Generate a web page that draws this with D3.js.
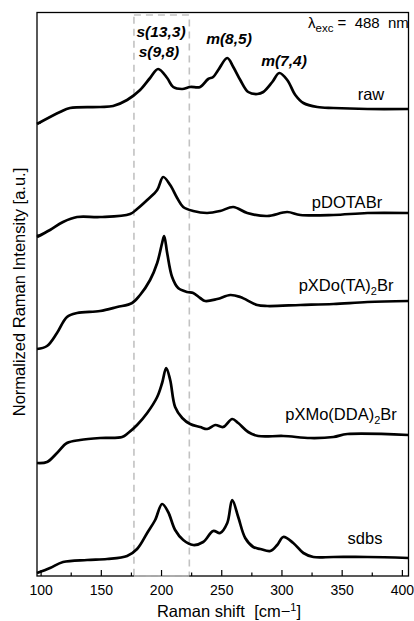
<!DOCTYPE html>
<html>
<head>
<meta charset="utf-8">
<style>
    body {
        margin: 0;
        background: #fff;
        font-family: "Liberation Sans", Arial, sans-serif;
    }
    svg {
        display: block;
    }
    .curve {
        fill: none;
        stroke: #000;
        stroke-width: 2.7px;
        stroke-linejoin: round;
    }
    .frame {
        fill: none;
        stroke: #000;
        stroke-width: 1.3px;
    }
    .region {
        fill: none;
        stroke: #c2c2c2;
        stroke-width: 1.6px;
        stroke-dasharray: 7 5;
    }
    .tick-label text {
        font-size: 14px;
    }
    .spec-label {
        font-size: 16.5px;
        text-anchor: middle;
    }
    .peak-label {
        font-size: 15.5px;
        font-weight: bold;
        font-style: italic;
        text-anchor: middle;
    }
    .axis-title {
        font-size: 16.5px;
        text-anchor: middle;
        white-space: pre;
    }
</style>
</head>
<body>
<script src="https://cdn.jsdelivr.net/npm/d3@7"></script>
<script>

    // spectra, [raman shift cm-1, stacked normalized intensity]
    var rawSpectrum = [
        [97,45.2],[116.1,46.4],[124.4,46.8],[149.4,46.9],[160.2,47.0],[171.8,47.6],
        [182.6,48.6],[190.9,49.8],[197.6,50.7],[205.1,49.8],[210.1,48.9],[217.6,48.7],
        [224.2,48.9],[232.5,48.9],[239.2,49.7],[243.3,49.9],[247.5,50.6],[255.0,51.8],
        [260.0,50.9],[265.8,49.6],[272.4,48.4],[279.9,48.2],[284.9,48.4],[292.4,49.4],
        [298.2,50.3],[304.8,49.6],[311.5,48.1],[318.2,47.3],[329.8,46.9],[343.1,46.8],
        [371.4,46.7],[405.5,46.7]
    ];
    var pdotabrSpectrum = [
        [97,33.9],[107.8,34.6],[118.6,35.4],[130.3,35.9],[149.4,35.9],[174.3,36.2],
        [180.1,36.7],[188.5,37.6],[196.8,38.6],[201.8,39.9],[207.6,39.1],[213.4,37.8],
        [218.4,36.9],[226.7,36.5],[238.3,36.3],[249.1,36.5],[260.0,36.9],[271.6,36.3],
        [288.2,36.0],[304.8,36.4],[315.7,36.1],[343.1,36.1],[371.4,36.3],[405.5,36.3]
    ];
    var pxdoSpectrum = [
        [97,22.7],[105.3,23.0],[113.6,24.3],[121.9,25.9],[130.3,26.3],[149.4,26.5],
        [163.5,26.9],[176.0,27.3],[182.6,28.1],[190.9,29.6],[196.8,31.3],[200.9,33.3],
        [202.6,34.0],[205.1,32.3],[209.2,29.9],[214.2,28.8],[221.7,28.4],[226.7,28.3],
        [232.5,27.8],[236.7,27.5],[246.7,27.7],[257.5,28.1],[265.8,27.9],[279.9,27.1],
        [288.2,27.0],[315.7,27.1],[343.1,27.2],[371.4,27.4],[405.5,27.5]
    ];
    var pxmoSpectrum = [
        [97,11.3],[105.3,11.4],[113.6,12.3],[121.9,13.3],[132.8,13.6],[149.4,13.8],
        [167.7,13.9],[172.7,14.3],[180.1,15.1],[188.5,16.3],[196.8,17.9],[200.9,19.3],
        [204.3,20.8],[207.6,19.6],[211.7,16.9],[217.6,15.8],[224.2,15.2],[232.5,14.9],
        [238.3,14.7],[245.0,15.1],[251.6,14.9],[259.1,15.7],[264.1,15.3],[272.4,14.4],
        [280.7,14.0],[301.5,14.0],[324.0,13.8],[343.1,13.9],[354.7,14.2],[405.5,14.1]
    ];
    var sdbsSpectrum = [
        [97,0.3],[107.8,0.8],[118.6,1.4],[138.6,1.6],[155.2,1.7],[171.8,2.0],
        [180.1,2.7],[188.5,4.3],[195.1,5.6],[200.9,7.2],[205.9,6.4],[211.7,4.6],
        [218.4,3.6],[226.7,3.1],[235.0,3.4],[243.3,4.5],[249.1,4.3],[255.0,5.3],
        [259.1,7.6],[264.1,5.9],[269.9,3.8],[276.6,2.9],[282.4,2.7],[290.7,2.5],
        [296.5,3.1],[301.5,3.9],[309.8,3.3],[318.2,2.3],[326.5,1.9],[343.1,1.9],
        [371.4,1.9],[405.5,1.8]
    ];

    var spectra = [rawSpectrum, pdotabrSpectrum, pxdoSpectrum, pxmoSpectrum, sdbsSpectrum];
    var sampleNames = [["raw"], ["pDOTABr"], ["pXDo(TA)", "2", "Br"], ["pXMo(DDA)", "2", "Br"], ["sdbs"]];

    var majorTicks = [100, 150, 200, 250, 300, 350, 400];
    var minorTicks = [125, 175, 225, 275, 325, 375];
    var yTicks = [45.3, 34.1];
    var regionBand = [177.5, 223.5];

    var peakNames = ["s(13,3)", "s(9,8)", "m(8,5)", "m(7,4)"];

    // layout (window.top is read-only, so no "top" here)
    var W = 414, H = 621,
        plotLeft = 37, plotRight = 408.5, plotTop = 12.5, plotBottom = 576;

    var x = d3.scaleLinear().domain([97, 405.5]).range([plotLeft, plotRight]);
    var y = d3.scaleLinear().domain([0, 56.35]).range([plotBottom, plotTop]);

    var svg = d3.select("body").append("svg")
        .attr("width", W)
        .attr("height", H);

    // dashed region
    svg.append("rect")
        .attr("class", "region")
        .attr("x", x(regionBand[0]))
        .attr("y", plotTop + 2.5)
        .attr("width", x(regionBand[1]) - x(regionBand[0]))
        .attr("height", plotBottom - plotTop - 2.5);

    var line = d3.line()
        .x(function(d) {return x(d[0])})
        .y(function(d) {return y(d[1])})
        .curve(d3.curveCatmullRom.alpha(0.5));

    svg.append("g").selectAll("path")
        .data(spectra)
      .enter().append("path")
        .attr("class", "curve")
        .attr("d", line);

    // frame
    svg.append("rect")
        .attr("class", "frame")
        .attr("x", plotLeft)
        .attr("y", plotTop)
        .attr("width", plotRight - plotLeft)
        .attr("height", plotBottom - plotTop);

    svg.append("line")
        .attr("x1", x(regionBand[0])).attr("x2", x(regionBand[1]))
        .attr("y1", plotBottom).attr("y2", plotBottom)
        .attr("stroke", "#c8c8c8").attr("stroke-width", 1.6);

    // x axis
    var xAxis = svg.append("g")
        .attr("class", "tick-label")
        .attr("transform", "translate(0," + plotBottom + ")")
        .call(d3.axisBottom(x).tickValues(majorTicks).tickSize(-6).tickPadding(9));
    xAxis.select(".domain").remove();
    xAxis.selectAll("text")
        .attr("fill", "#000")
        .style("font-family", "'Liberation Sans', Arial, sans-serif");
    xAxis.selectAll("line").attr("stroke-width", 1.2);

    var xMinor = svg.append("g")
        .attr("transform", "translate(0," + plotBottom + ")")
        .call(d3.axisBottom(x).tickValues(minorTicks).tickSize(-3.5).tickFormat(""));
    xMinor.select(".domain").remove();
    xMinor.selectAll("line").attr("stroke-width", 1.2);

    // y ticks
    svg.append("g").selectAll("line")
        .data(yTicks)
      .enter().append("line")
        .attr("x1", plotLeft)
        .attr("x2", plotLeft + 4)
        .attr("y1", function(d) {return y(d)})
        .attr("y2", function(d) {return y(d)})
        .attr("stroke", "#000")
        .attr("stroke-width", 1.2);

    // sample labels
    var labelPos = [[371, 100], [347, 208], [346, 291], [341, 420], [365, 544]];
    svg.append("g").selectAll("text")
        .data(sampleNames)
      .enter().append("text")
        .attr("class", "spec-label")
        .attr("x", function(d, i) {return labelPos[i][0]})
        .attr("y", function(d, i) {return labelPos[i][1]})
        .each(function(d) {
            var t = d3.select(this);
            t.append("tspan").text(d[0]);
            if (d.length > 1) {
                t.append("tspan").attr("dy", 4).style("font-size", "11px").text(d[1]);
                t.append("tspan").attr("dy", -4).text(d[2]);
            }
        });

    // peak assignments
    var peakPos = [[161, 37], [159, 57], [229, 44], [284, 66]];
    svg.append("g").selectAll("text")
        .data(peakNames)
      .enter().append("text")
        .attr("class", "peak-label")
        .attr("x", function(d, i) {return peakPos[i][0]})
        .attr("y", function(d, i) {return peakPos[i][1]})
        .text(function(d) {return d});

    // excitation wavelength
    var exc = svg.append("text")
        .attr("x", 308)
        .attr("y", 28)
        .style("font-size", "15px")
        .style("white-space", "pre");
    exc.append("tspan").text("\u03bb");
    exc.append("tspan").attr("dy", 4).style("font-size", "11.5px").text("exc");
    exc.append("tspan").attr("dy", -4).text(" =  488  nm");

    // axis titles
    var xt = svg.append("text")
        .attr("class", "axis-title")
        .attr("x", 229)
        .attr("y", 617);
    xt.append("tspan").text("Raman shift  [cm\u2212");
    xt.append("tspan").attr("dy", -6).style("font-size", "11px").text("1");
    xt.append("tspan").attr("dy", 6).text("]");

    svg.append("text")
        .attr("class", "axis-title")
        .attr("transform", "translate(25,292) rotate(-90)")
        .text("Normalized Raman Intensity [a.u.]");
</script>
</body>
</html>
